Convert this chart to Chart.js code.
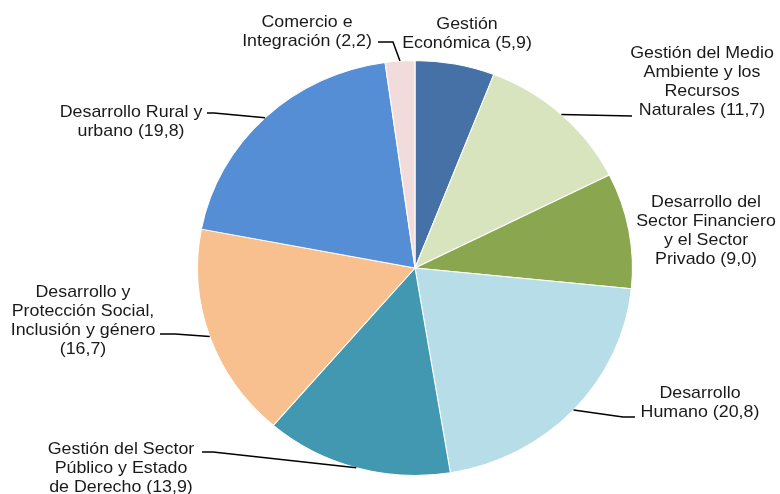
<!DOCTYPE html>
<html>
<head>
<meta charset="utf-8">
<script src="https://cdn.jsdelivr.net/npm/chart.js@4"></script>
<style>
    html, body { margin: 0; padding: 0; background: #ffffff; }
    #wrap { width: 780px; height: 494px; position: relative; }
</style>
</head>
<body>
<div id="wrap"><canvas id="pie-chart"></canvas></div>
<script>
// Categories (one label per slice, lines split as in the original)
const categories = [
    ['Gestión', 'Económica (5,9)'],
    ['Gestión del Medio', 'Ambiente y los', 'Recursos', 'Naturales (11,7)'],
    ['Desarrollo del', 'Sector Financiero', 'y el Sector', 'Privado (9,0)'],
    ['Desarrollo', 'Humano (20,8)'],
    ['Gestión del Sector', 'Público y Estado', 'de Derecho (13,9)'],
    ['Desarrollo y', 'Protección Social,', 'Inclusión y género', '(16,7)'],
    ['Desarrollo Rural y', 'urbano (19,8)'],
    ['Comercio e', 'Integración (2,2)']
];

// Share of each slice (%)
const shares = [5.9, 11.7, 9.0, 20.8, 13.9, 16.7, 19.8, 2.2];

const colors = ['#4571a7', '#d7e4bd', '#8aa64f', '#b7dee8', '#4298b0', '#f9c08f', '#558ed5', '#f2dcdb'];

// Where each label sits and the elbow of its leader line (null = no line)
const labelLayout = [
    { x: 467, y: 24, elbow: null },
    { x: 702, y: 53, elbow: [[632, 116]] },
    { x: 706, y: 202, elbow: null },
    { x: 700, y: 393, elbow: [[635, 417], [623, 417]] },
    { x: 121, y: 449, elbow: [[202, 452], [213, 452]] },
    { x: 83, y: 292, elbow: [[160, 334], [175, 334]] },
    { x: 131, y: 112, elbow: [[207, 113], [214, 113]] },
    { x: 307, y: 22, elbow: [[378, 42], [393, 42]] }
];

// The original pie (and its text) is a little wider than tall
const stretchX = 1.048;

// Plugin to stretch the pie horizontally and draw the labels with leader lines
const pieLabels = {
    id: 'pieLabels',
    beforeDatasetsDraw(chart) {
        const arc = chart.getDatasetMeta(0).data[0];
        const ctx = chart.ctx;
        ctx.save();
        ctx.translate(arc.x, arc.y);
        ctx.scale(stretchX, 1);
        ctx.translate(-arc.x, -arc.y);
    },
    afterDatasetsDraw(chart) {
        chart.ctx.restore();
    },
    afterDraw(chart) {
        const ctx = chart.ctx;
        const arcs = chart.getDatasetMeta(0).data;
        ctx.save();
        ctx.font = '17px "Liberation Sans", Arial, sans-serif';
        ctx.fillStyle = '#1a1a1a';
        ctx.textAlign = 'center';
        ctx.textBaseline = 'middle';
        arcs.forEach((arc, i) => {
            const layout = labelLayout[i];
            categories[i].forEach((line, k) => {
                ctx.save();
                ctx.translate(layout.x, layout.y + k * 19);
                ctx.scale(stretchX, 1);
                ctx.fillText(line, 0, 0);
                ctx.restore();
            });
            if (layout.elbow) {
                const mid = (arc.startAngle + arc.endAngle) / 2;
                const ex = arc.x + Math.cos(mid) * arc.outerRadius * stretchX;
                const ey = arc.y + Math.sin(mid) * arc.outerRadius;
                ctx.beginPath();
                ctx.moveTo(layout.elbow[0][0], layout.elbow[0][1]);
                for (let p = 1; p < layout.elbow.length; p++) {
                    ctx.lineTo(layout.elbow[p][0], layout.elbow[p][1]);
                }
                ctx.lineTo(ex, ey);
                ctx.strokeStyle = '#000000';
                ctx.lineWidth = 1.5;
                ctx.stroke();
            }
        });
        ctx.restore();
    }
};

const ctx = document.getElementById('pie-chart').getContext('2d');

new Chart(ctx, {
    type: 'pie',
    data: {
        labels: categories.map(c => c.join(' ')),
        datasets: [{
            data: shares,
            backgroundColor: colors,
            borderColor: '#ffffff',
            borderWidth: 1
        }]
    },
    options: {
        responsive: true,
        maintainAspectRatio: false,
        animation: false,
        layout: {
            padding: { top: 59, bottom: 17, left: 207, right: 157 }
        },
        plugins: {
            legend: { display: false },
            tooltip: { enabled: false }
        }
    },
    plugins: [pieLabels]
});
</script>
</body>
</html>
